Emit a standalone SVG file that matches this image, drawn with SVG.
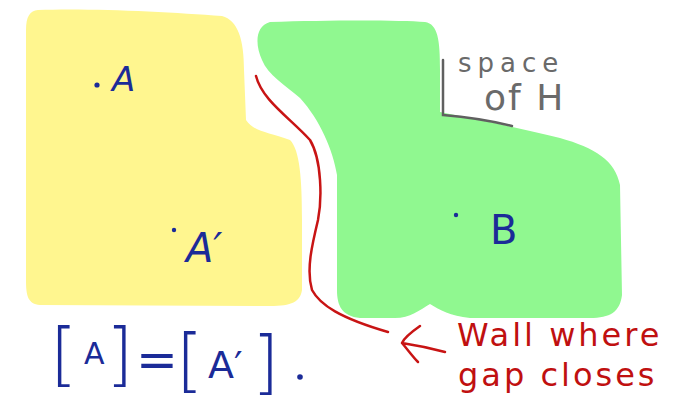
<svg xmlns="http://www.w3.org/2000/svg" width="690" height="407" viewBox="0 0 690 407">
<style>
.blue{fill:#1b2b98;font-family:"DejaVu Sans",sans-serif}
.red{fill:#c01010;font-family:"DejaVu Sans",sans-serif}
.gray{fill:#6a6a6a;font-family:"DejaVu Sans",sans-serif}
.brk{fill:#1b2b98;font-family:"DejaVu Sans",sans-serif;font-size:70px;font-weight:300}
.redline{fill:none;stroke:#c81414;stroke-width:2.5;stroke-linecap:round;stroke-linejoin:round}
</style>
<rect width="690" height="407" fill="#ffffff"/>
<g id="regionA">
<path d="M38,10 C90,8 170,12 222,16 C238,20 244,40 244,70 L246,120 C254,132 268,132 290,140 C300,150 302,180 302,220 L302,290 C300,302 292,306 270,306 L40,305 C28,304 26,296 26,280 L26,30 C26,16 30,11 38,10 Z" fill="#fff68f"/>
<circle cx="97" cy="85" r="2.6" fill="#1b2b98"/>
<text class="blue" x="112" y="91" font-size="34" font-style="italic">A</text>
<circle cx="174" cy="230" r="2.2" fill="#1b2b98"/>
<text class="blue" x="186" y="262" font-size="40" font-style="italic">A′</text>
</g>
<g id="regionB">
<path d="M270,22 C330,20 400,20 425,22 C438,24 440,40 440,70 L440,112 C470,118 520,128 560,138 C595,148 615,160 620,185 L622,295 C620,312 610,318 590,318 L470,318 C450,316 440,310 430,304 C420,310 410,318 395,318 L360,318 C342,316 337,306 337,290 L337,175 C333,150 320,120 300,98 C285,85 268,75 262,60 C255,45 255,26 270,22 Z" fill="#90f890"/>
<circle cx="456" cy="215" r="2.2" fill="#1b2b98"/>
<text class="blue" x="490" y="244" font-size="40">B</text>
</g>
<g id="spaceOfH">
<path d="M443,60 L443,115 Q480,118 512,126" fill="none" stroke="#606060" stroke-width="2.5" stroke-linecap="round"/>
<text class="gray" x="458" y="72" font-size="26" letter-spacing="6">space</text>
<text class="gray" x="484" y="110" font-size="36" letter-spacing="2">of H</text>
</g>
<g id="connectors">
<path class="redline" d="M256,76 C262,100 290,118 310,140 C322,160 322,200 318,220 C312,245 306,270 312,290 C320,305 340,318 388,332"/>
<path class="redline" d="M445,352 C430,348 415,345 402,343 M420,326 C410,333 404,338 402,343 C408,350 413,357 418,362"/>
</g>
<g id="wallLabel">
<text class="red" x="457" y="346" font-size="32" letter-spacing="3">Wall where</text>
<text class="red" x="458" y="386" font-size="32" letter-spacing="3">gap closes</text>
</g>
<g id="equation">
<text class="brk" x="50" y="378">[</text>
<text class="blue" x="84" y="364" font-size="30">A</text>
<text class="brk" x="106" y="378">]</text>
<text class="blue" x="136" y="377" font-size="50">=</text>
<text class="brk" x="176" y="384">[</text>
<text class="blue" x="208" y="378" font-size="38">A′</text>
<text class="brk" x="252" y="386">]</text>
<circle cx="300" cy="377" r="2.8" fill="#1b2b98"/>
</g>
</svg>
